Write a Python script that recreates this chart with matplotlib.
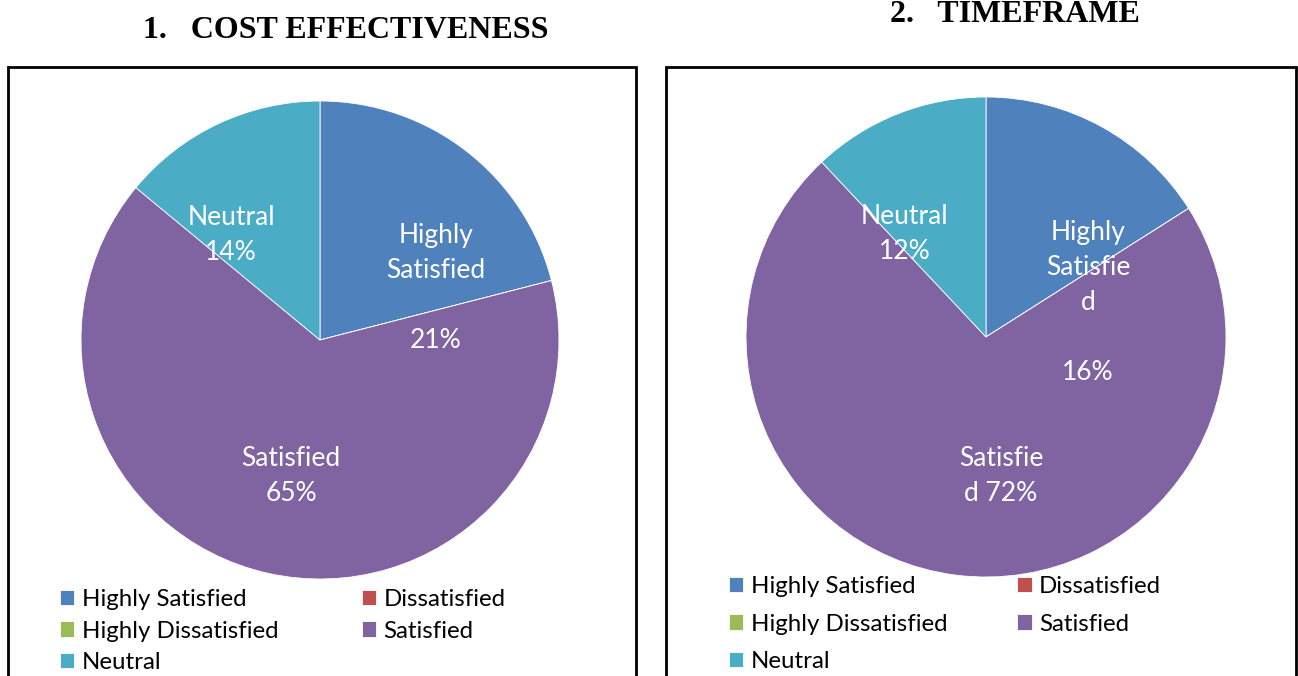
import numpy as np
import matplotlib.pyplot as plt
from matplotlib.patches import Rectangle

plt.rcParams['font.family'] = ['Lato', 'DejaVu Sans']

categories = ['Highly Satisfied', 'Dissatisfied', 'Highly Dissatisfied', 'Satisfied', 'Neutral']
colors = ['#4F81BD', '#C0504D', '#9BBB59', '#8064A2', '#4BACC6']

cost_values = [21, 0, 0, 65, 14]
time_values = [16, 0, 0, 72, 12]

titles = ['1.   COST EFFECTIVENESS', '2.   TIMEFRAME']

# label texts and offsets (in pie radius units) for each chart
cost_labels = [('Highly\nSatisfied', 0.485, 0.365), ('21%', 0.485, 0.0),
               ('Neutral\n14%', -0.372, 0.44), ('Satisfied\n65%', -0.121, -0.568)]
time_labels = [('Highly\nSatisfie\nd', 0.425, 0.29), ('16%', 0.425, -0.15),
               ('Neutral\n12%', -0.34, 0.428), ('Satisfie\nd 72%', 0.0625, -0.581)]

W, H = 1298, 676
fig = plt.figure(figsize=(W / 100, H / 100), dpi=100)


def draw_panel(values, labels, title, cx, cy, r, box, title_xy, leg):
    # frame around the chart
    bx0, by0, bx1 = box
    fig.patches.append(Rectangle((bx0 / W, 0 - 0.01), (bx1 - bx0) / W, (H - by0) / H + 0.01,
                                 transform=fig.transFigure, fill=False,
                                 edgecolor='black', linewidth=2))
    fig.text(title_xy[0] / W, 1 - title_xy[1] / H, title, ha='center', va='center',
             family='Liberation Serif', weight='bold', fontsize=23)

    ax = fig.add_axes([(cx - r) / W, (H - cy - r) / H, 2 * r / W, 2 * r / H])
    wedges, _ = ax.pie(values, colors=colors, startangle=90, counterclock=False,
                       radius=1, wedgeprops=dict(edgecolor='white', linewidth=0.6))
    ax.set_xlim(-1, 1)
    ax.set_ylim(-1, 1)
    for txt, dx, dy in labels:
        ax.text(dx, dy, txt, ha='center', va='center', color='white',
                fontsize=19, linespacing=1.5)

    # legend filled row by row
    order = [0, 2, 4, 1, 3]
    fig.legend([wedges[i] for i in order], [categories[i] for i in order],
               ncol=2, loc='upper left', bbox_to_anchor=(leg[0] / W, 1 - leg[1] / H),
               frameon=False, fontsize=17.3, handlelength=0.6, handleheight=0.6,
               handletextpad=0.3, columnspacing=leg[2], labelspacing=leg[3],
               borderaxespad=0, borderpad=0)
    return ax


draw_panel(cost_values, cost_labels, titles[0], 320, 340, 239, (8, 67, 636), (346, 30),
           (60, 589, 3.48, 0.44))
draw_panel(time_values, time_labels, titles[1], 986, 337, 240, (666, 67, 1296), (1015, 15),
           (729, 576, 2.92, 0.69))

fig.savefig('out.png', dpi=100)
